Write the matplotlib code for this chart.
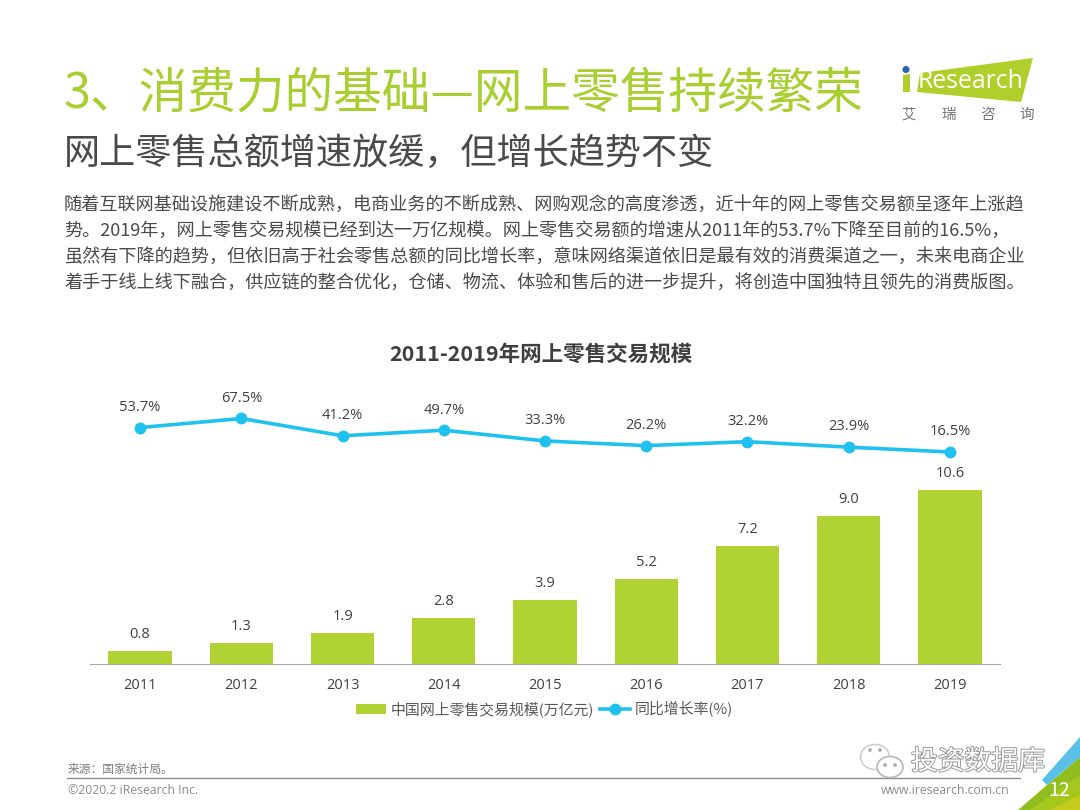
import matplotlib
matplotlib.use("Agg")
import matplotlib.pyplot as plt
import matplotlib.patheffects as pe
from matplotlib.patches import Polygon, Ellipse, Circle

plt.rcParams["font.family"] = ["Noto Sans CJK SC", "DejaVu Sans"]

years = ["2011", "2012", "2013", "2014", "2015", "2016", "2017", "2018", "2019"]
scale = [0.8, 1.3, 1.9, 2.8, 3.9, 5.2, 7.2, 9.0, 10.6]
growth = [53.7, 67.5, 41.2, 49.7, 33.3, 26.2, 32.2, 23.9, 16.5]

title = "3、消费力的基础—网上零售持续繁荣"
subtitle = "网上零售总额增速放缓，但增长趋势不变"
body = [
    "随着互联网基础设施建设不断成熟，电商业务的不断成熟、网购观念的高度渗透，近十年的网上零售交易额呈逐年上涨趋",
    "势。2019年，网上零售交易规模已经到达一万亿规模。网上零售交易额的增速从2011年的53.7%下降至目前的16.5%，",
    "虽然有下降的趋势，但依旧高于社会零售总额的同比增长率，意味网络渠道依旧是最有效的消费渠道之一，未来电商企业",
    "着手于线上线下融合，供应链的整合优化，仓储、物流、体验和售后的进一步提升，将创造中国独特且领先的消费版图。",
]
chart_title = "2011-2019年网上零售交易规模"
bar_name = "中国网上零售交易规模(万亿元)"
line_name = "同比增长率(%)"

GREEN = "#b0d232"
BLUE = "#1fc1ee"
LATIN = ["Open Sans", "DejaVu Sans"]
W, H = 1080, 810

fig = plt.figure(figsize=(10.8, 8.1), dpi=100)

# page layer in pixel coordinates
bg = fig.add_axes([0, 0, 1, 1])
bg.set_xlim(0, W)
bg.set_ylim(H, 0)
bg.axis("off")

bg.text(64, 94, title, fontsize=35, color="#a6cf2f", va="center", ha="left")
bg.text(64, 154, subtitle, fontsize=26, color="#4a4a4a", va="center", ha="left")
for i, line in enumerate(body):
    bg.text(64, 205 + i * 26, line, fontsize=13.08, color="#4a4a4a", va="center", ha="left")
bg.text(541, 354, chart_title, fontsize=15.5, fontweight="bold", color="#3f3f3f",
        va="center", ha="center")

# logo
bg.add_patch(Polygon([[920, 73], [1033, 58], [1021, 102], [917, 92]], color="#afcf2b", lw=0))
bg.add_patch(Polygon([[903, 75], [910, 74], [910, 92], [903, 92]], color="#afcf2b", lw=0))
bg.add_patch(Circle((906, 69.5), 3.5, color="#2f62ad", lw=0))
bg.text(918, 82, "Research", fontsize=17.8, color="white", va="center", ha="left", family=LATIN)
for x, ch in zip([909, 949, 988, 1027], "艾瑞咨询"):
    bg.text(x, 115, ch, fontsize=10.5, color="#777777", va="center", ha="center")

# footer
bg.plot([67, 1020], [778, 778], color="#8c8c8c", lw=1)
bg.text(68, 769, "来源：国家统计局。", fontsize=8.5, color="#7f7f7f", va="center", ha="left")
bg.text(68, 791, "©2020.2 iResearch Inc.", fontsize=8.8, color="#8c8c8c", va="center", ha="left",
        family=LATIN)
bg.text(1009, 791, "www.iresearch.com.cn", fontsize=8.8, color="#8c8c8c", va="center", ha="right",
        family=LATIN)

# corner triangles
bg.add_patch(Polygon([[1018, 810], [1047, 785], [1080, 757], [1080, 810]], color="#8fbe1e", lw=0, zorder=2))
bg.add_patch(Polygon([[1030, 810], [1080, 775], [1080, 810]], color="#a6c81e", lw=0, zorder=3))
bg.add_patch(Polygon([[1050, 810], [1080, 795], [1080, 810]], color="#c5cb1c", lw=0, zorder=4))
bg.add_patch(Polygon([[1042, 780], [1080, 737], [1080, 757], [1047, 785]], color="#5bc0e8", lw=0, zorder=5))
bg.text(1059, 791, "12", fontsize=14, color="white", va="center", ha="center", zorder=6)

# watermark
halo = [pe.withStroke(linewidth=1.4, foreground="#9a9a9a")]
bg.text(911, 762, "投资数据库", fontsize=19.3, color="white", va="center", ha="left",
        path_effects=halo, zorder=7)
bg.add_patch(Ellipse((875, 757), 29, 25, fc="white", ec="#cfcfcf", lw=1.2, zorder=7))
bg.add_patch(Ellipse((890, 767), 26, 21, fc="white", ec="#b5b5b5", lw=1.2, zorder=8))
for x, y in [(870, 750), (880, 750), (885, 765), (895, 765)]:
    bg.add_patch(Circle((x, y), 1.2, color="#b0b0b0", zorder=9))

# chart, pixel box x 89.5-1000.5, y 380-664
box = [89.5 / W, 1 - 664 / H, 911 / W, 284 / H]
ax = fig.add_axes(box)
ax.patch.set_alpha(0)
bars = ax.bar(years, scale, width=0.625, color=GREEN, label=bar_name)
ax.set_xlim(-0.5, 8.5)
ax.set_ylim(0, 284 / 16.4)
ax.bar_label(bars, labels=[f"{v:.1f}" for v in scale], padding=6.5, fontsize=10.5, color="#404040",
             family=LATIN)
ax.tick_params(axis="x", length=0, pad=10, labelsize=10.5, labelcolor="#404040")
ax.set_yticks([])
for s in ["top", "left", "right"]:
    ax.spines[s].set_visible(False)
ax.spines["bottom"].set_color("#a6a6a6")
for lab in ax.get_xticklabels():
    lab.set_family(LATIN)

ax2 = ax.twinx()
ax2.set_ylim(16.5 - 212 / 0.657, 16.5 + 72 / 0.657)
ax2.plot(years, growth, color=BLUE, lw=2.6, marker="o", ms=7.5, label=line_name)
ax2.axis("off")
for x, v in zip(years, growth):
    ax2.annotate(f"{v:.1f}%", (x, v), xytext=(0, 12), textcoords="offset points",
                 ha="center", fontsize=10.5, color="#404040", family=LATIN)

h1, l1 = ax.get_legend_handles_labels()
h2, l2 = ax2.get_legend_handles_labels()
fig.legend(h1 + h2, l1 + l2, ncol=2, loc="center", bbox_to_anchor=(544.5 / W, 1 - 709 / H),
           frameon=False, fontsize=10.75, labelcolor="#595959", handlelength=2.0,
           columnspacing=0.35, handletextpad=0.35, borderpad=0)

fig.savefig("out.png", dpi=100, facecolor="white")
